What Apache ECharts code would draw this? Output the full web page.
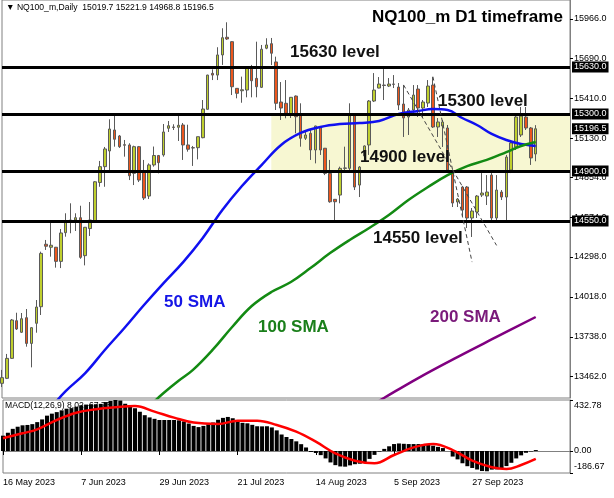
<!DOCTYPE html>
<html><head><meta charset="utf-8">
<script src="https://cdn.jsdelivr.net/npm/echarts@6/dist/echarts.min.js"></script>
<style>html,body{margin:0;padding:0;background:#fff}#c{width:614px;height:498px}</style>
</head><body><div id="c"></div>
<script>
// ---------- DATA ----------
const open  = [13412,13447,13587,13851,13770,13872,13692,13833,13949,14387,14366,14366,14267,14468,14550,14557,14573,14307,14497,14552,14820,14931,15041,15188,15146,15085,15083,14884,15071,14900,14725,14943,15009,15013,15200,15209,15207,15223,15083,15064,15064,15134,15333,15585,15573,15714,15838,15807,15480,15463,15468,15618,15550,15487,15761,15793,15665,15384,15375,15293,15426,15293,15130,15165,15048,15211,15060,14884,14702,14732,14919,14919,15293,14802,15006,15083,15391,15482,15503,15496,15510,15489,15370,15279,15328,15475,15342,15377,15503,15209,15216,15202,14886,14683,14788,14788,14571,14613,14732,14725,14872,14571,14753,14718,14907,15069,15153,15279,15202,15019.7];
const high  = [13506,13618,13863,13907,13905,13933,13806,13996,14335,14417,14538,14368,14494,14604,14674,14604,14657,14508,14683,14830,14971,15069,15263,15293,15153,15118,15095,15078,15076,14978,14954,15072,15013,15230,15251,15228,15290,15237,15225,15076,15141,15398,15575,15613,15768,15901,15943,15810,15482,15562,15622,15644,15807,15784,15831,15833,15702,15524,15538,15419,15430,15375,15174,15188,15218,15213,15062,14978,14704,14931,15071,15375,15300,14935,15080,15398,15587,15559,15615,15552,15573,15517,15503,15342,15503,15503,15398,15538,15559,15272,15258,15223,14907,14711,14795,14795,14641,14732,14886,14872,14886,14872,14767,15013,15118,15286,15349,15349,15209,15221.9];
const low   = [13386,13442,13583,13786,13765,13669,13524,13767,13891,14347,14300,14223,14220,14440,14464,14480,14285,14239,14445,14550,14790,14790,14907,15071,15062,15001,14837,14802,14823,14697,14704,14931,14884,15001,15174,15188,15111,14978,15036,14936,14982,15130,15331,15538,15538,15644,15819,15433,15410,15379,15417,15417,15417,15482,15754,15643,15328,15258,15270,15272,15165,15071,15118,14978,14954,15013,14872,14678,14557,14674,14907,14907,14767,14718,15000,15013,15384,15480,15398,15489,15482,15328,15139,15153,15293,15279,15272,15349,15202,15139,15069,14900,14648,14648,14585,14501,14438,14571,14718,14662,14543,14536,14697,14536,14886,15048,15139,15188,14943,14968.8];
const close = [13452,13587,13856,13793,13865,13692,13802,13947,14323,14373,14380,14267,14466,14545,14557,14573,14295,14506,14557,14825,14931,15055,15195,15123,15071,15081,14867,15071,14837,14711,14943,15009,14959,15174,15218,15206,15221,15083,15053,15062,15141,15335,15573,15573,15714,15835,15826,15491,15445,15470,15620,15533,15491,15754,15784,15726,15375,15342,15305,15417,15281,15130,15153,15048,15216,15048,14884,14685,14685,14919,14922,15293,14788,14928,15076,15391,15468,15510,15500,15510,15508,15363,15272,15328,15433,15342,15384,15496,15209,15244,15244,14907,14676,14704,14627,14571,14620,14725,14746,14753,14571,14767,14718,14998,15097,15279,15286,15202,14992,15196.5];

// moving averages: [bar index, value]
const sma50  = [[11,13281],[13,13358],[17,13484],[21,13646],[25,13800],[29,13961],[33,14115],[37,14262],[41,14431],[45,14627],[49,14795],[53,14942],[57,15083],[61,15167],[65,15209],[69,15230],[73,15237],[77,15251],[81,15300],[85,15321],[88,15335],[91,15328],[94,15272],[97,15223],[100,15160],[103,15118],[106,15090],[109,15076]];
const sma100 = [[31,13281],[33,13344],[36,13428],[39,13506],[43,13646],[47,13807],[51,13954],[55,14052],[59,14122],[63,14220],[67,14325],[71,14417],[75,14501],[79,14592],[83,14697],[87,14788],[91,14872],[95,14935],[99,14978],[103,15033],[106,15076],[109,15104]];
const sma200 = [[77,13288],[78,13309],[85,13449],[93,13596],[101,13737],[109,13877]];

// MACD histogram (main) and signal
const macdMain = [130,155,188,206,218,221,228,245,268,300,317,330,345,359,364,376,388,394,396,397,400,415,425,432.78,428,401,388,363,333,304,285,273,263,263,263,263,260,251,233,213,203,213,227,242,265,281,289,278,257,239,235,222,210,209,210,200,175,140,119,102,82,58,30,-8,-17,-35,-63,-97,-120,-131,-133,-122,-112,-108,-98,-67,-33,-5,18,40,59,64,61,59,59,59,59,52,45,35,25,0,-47,-71,-104,-129,-144,-157,-170,-172,-158,-156,-149,-128,-100,-63,-37,-15,-4,8.02];
const macdSignal = [[0,108],[4,150],[7,184],[11,263],[15,325],[19,354],[23,371],[27,382],[31,334],[35,283],[39,241],[44,229],[48,257],[52,257],[56,221],[60,164],[64,79],[68,-20],[72,-82],[76,-104],[80,-34],[84,31],[88,59],[92,8],[96,-82],[100,-138],[103,-153],[106,-119],[109,-67.73]];

// levels, zone, channel
const levels = [15630, 15300, 14900, 14550];
const lastPrice = 15196.5;
const zone = {fromBar:55, top:15300, bottom:14900};
const channel = [[[88,15562],[96,14262]], [[82,15504],[101,14379]]];

// axis ticks
const priceTicks = [15966,15690,15410,15130,14854,14574,14298,14018,13738,13462];
const macdTicks = [432.78, 0, -186.67];
const xTickLabels = ['16 May 2023','7 Jun 2023','29 Jun 2023','21 Jul 2023','14 Aug 2023','5 Sep 2023','27 Sep 2023'];
const priceMin = 13309.2, priceMax = 16099.2;
const macdMin = -186.67, macdMax = 432.78;

// trading-day categories (weekdays from 16 May 2023), with empty right margin slots
function weekdays(n){
  const M=['Jan','Feb','Mar','Apr','May','Jun','Jul','Aug','Sep','Oct','Nov','Dec'];
  const out=[]; const d=new Date(Date.UTC(2023,4,16));
  while(out.length<n){const w=d.getUTCDay(); if(w!==0&&w!==6) out.push(d.getUTCDate()+' '+M[d.getUTCMonth()]+' '+d.getUTCFullYear()); d.setUTCDate(d.getUTCDate()+1);}
  return out;
}
const categories = weekdays(117);

// ---------- CHART ----------
const FONT = '"Liberation Sans", Arial, sans-serif';
const candles = open.map((o,i)=>[o, close[i], low[i], high[i]]);
const boxLabel = (txt)=>({show:true, position:'end', formatter:txt, backgroundColor:'#000', color:'#fff',
  padding:[1,2,0,2], fontSize:9, fontFamily:FONT, distance:2, lineHeight:10});

const markLineData = levels.map(v=>({yAxis:v, lineStyle:{color:'#000', width:3, type:'solid'}, label:boxLabel(v.toFixed(1))}));
markLineData.push({yAxis:lastPrice, lineStyle:{color:'rgba(0,0,0,0)', width:0}, label:boxLabel(lastPrice.toFixed(1))});
channel.forEach(c=>markLineData.push([
  {coord:c[0], lineStyle:{color:'#444', width:1, type:[4,3]}, label:{show:false}},
  {coord:c[1]}
]));

const chart = echarts.init(document.getElementById('c'));
const tickFilter = (i, v) => xTickLabels.includes(v);
const txt = (t, x, y, color, z) => ({type:'text', left:x, top:y, z:z===undefined?100:z,
  style:{text:t, font:'bold 17px '+FONT, fill:color}});

chart.setOption({
  animation:false,
  backgroundColor:'#fff',
  grid:[
    {left:2, right:44, top:0, height:398, show:true, borderColor:'#808080', borderWidth:1},
    {left:2, right:44, top:400, height:73, show:true, borderColor:'#808080', borderWidth:1}
  ],
  xAxis:[
    {type:'category', gridIndex:0, data:categories, boundaryGap:false,
     axisLine:{show:false}, axisTick:{show:false}, axisLabel:{show:false}, splitLine:{show:false}},
    {type:'category', gridIndex:1, data:categories, boundaryGap:false,
     axisLine:{show:true, lineStyle:{color:'#808080'}},
     axisTick:{show:true, interval:tickFilter, length:4, lineStyle:{color:'#000'}},
     axisLabel:{show:true, interval:tickFilter, align:'left', fontSize:9, fontFamily:FONT, color:'#000', margin:5},
     splitLine:{show:false}}
  ],
  yAxis:[
    {type:'value', gridIndex:0, position:'right', min:priceMin, max:priceMax, splitLine:{show:false},
     axisLine:{show:true, lineStyle:{color:'#808080'}},
     axisTick:{show:true, customValues:priceTicks, length:3, lineStyle:{color:'#000'}},
     axisLabel:{customValues:priceTicks, formatter:v=>Number(v).toFixed(1), fontSize:9, fontFamily:FONT, color:'#000', margin:4}},
    {type:'value', gridIndex:1, position:'right', min:macdMin, max:macdMax, splitLine:{show:false},
     axisLine:{show:true, lineStyle:{color:'#808080'}},
     axisTick:{show:true, customValues:macdTicks, length:3, lineStyle:{color:'#000'}},
     axisLabel:{customValues:macdTicks, fontSize:9, fontFamily:FONT, color:'#000', margin:4,
       formatter:v=>{const s=Number(v).toFixed(2); if(Math.abs(v-macdMax)<0.01) return '{t|'+s+'}'; if(Math.abs(v-macdMin)<0.01) return '{b|'+s+'}'; return s;},
       rich:{t:{padding:[12,0,0,0], fontSize:9, fontFamily:FONT, color:'#000'}, b:{padding:[0,0,12,0], fontSize:9, fontFamily:FONT, color:'#000'}}}}
  ],
  series:[
    {type:'candlestick', xAxisIndex:0, yAxisIndex:0, data:candles, barWidth:3,
     itemStyle:{color:'#bfcf2e', color0:'#ec561d', borderColor:'#5a5a5a', borderColor0:'#5a5a5a', borderWidth:1},
     markArea:{silent:true, itemStyle:{color:'#f7f7d2'},
       data:[[{xAxis:categories[zone.fromBar], yAxis:zone.top},{xAxis:categories[116], yAxis:zone.bottom}]]},
     markLine:{silent:true, symbol:['none','none'], animation:false, data:markLineData}},
    {type:'line', name:'50 SMA', xAxisIndex:0, yAxisIndex:0, data:sma50, smooth:0.4, showSymbol:false, z:3,
     lineStyle:{color:'#1010f0', width:2.5}},
    {type:'line', name:'100 SMA', xAxisIndex:0, yAxisIndex:0, data:sma100, smooth:0.4, showSymbol:false, z:3,
     lineStyle:{color:'#138a13', width:2.5}},
    {type:'line', name:'200 SMA', xAxisIndex:0, yAxisIndex:0, data:sma200, smooth:0.4, showSymbol:false, z:3,
     lineStyle:{color:'#800080', width:2.5}},
    {type:'bar', xAxisIndex:1, yAxisIndex:1, data:macdMain, barWidth:4, itemStyle:{color:'#000'}},
    {type:'line', xAxisIndex:1, yAxisIndex:1, data:macdSignal, smooth:0.4, showSymbol:false, z:4,
     lineStyle:{color:'#ff0000', width:2.5}}
  ],
  graphic:{elements:[
    {type:'text', left:6, top:3, z:0, style:{text:'\u25BC NQ100_m,Daily  15019.7 15221.9 14968.8 15196.5', font:'8.6px '+FONT, fill:'#000'}},
    {type:'text', left:5, top:401, z:0, style:{text:'MACD(12,26,9) 8.02 -67.73', font:'8.6px '+FONT, fill:'#000'}},
    txt('NQ100_m D1 timeframe', 372, 9, '#000'),
    txt('15630 level', 290, 44, '#111'),
    txt('15300 level', 438, 93, '#111'),
    txt('14900 level', 360, 149, '#111'),
    txt('14550 level', 373, 230, '#111'),
    txt('50 SMA', 164, 294, '#1515e6'),
    txt('100 SMA', 258, 319, '#1a7f1a'),
    txt('200 SMA', 430, 309, '#7a1a7a')
  ]}
});
</script></body></html>
